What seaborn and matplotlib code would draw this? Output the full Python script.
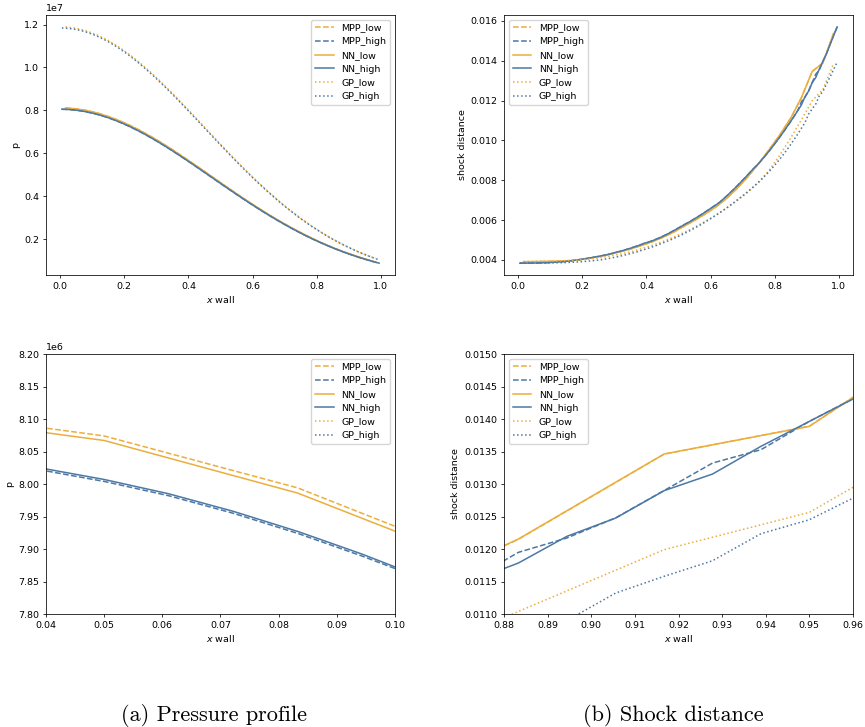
import pandas as pd
import matplotlib
matplotlib.use("Agg")
import matplotlib.pyplot as plt
import seaborn as sns

# --- DATA ---
# wall coordinate of the fine (high) and coarse (low) mesh
X_HIGH = [0.0056, 0.0167, 0.0278, 0.0389, 0.0500, 0.0611, 0.0722, 0.0833, 0.0944, 0.1056,
          0.1167, 0.1278, 0.1389, 0.1500, 0.1611, 0.1722, 0.1833, 0.1944, 0.2056, 0.2167,
          0.2278, 0.2389, 0.2500, 0.2611, 0.2722, 0.2833, 0.2944, 0.3056, 0.3167, 0.3278,
          0.3389, 0.3500, 0.3611, 0.3722, 0.3833, 0.3944, 0.4056, 0.4167, 0.4278, 0.4389,
          0.4500, 0.4611, 0.4722, 0.4833, 0.4944, 0.5056, 0.5167, 0.5278, 0.5389, 0.5500,
          0.5611, 0.5722, 0.5833, 0.5944, 0.6056, 0.6167, 0.6278, 0.6389, 0.6500, 0.6611,
          0.6722, 0.6833, 0.6944, 0.7056, 0.7167, 0.7278, 0.7389, 0.7500, 0.7611, 0.7722,
          0.7833, 0.7944, 0.8056, 0.8167, 0.8278, 0.8389, 0.8500, 0.8611, 0.8722, 0.8833,
          0.8944, 0.9056, 0.9167, 0.9278, 0.9389, 0.9500, 0.9611, 0.9722, 0.9833, 0.9944]
X_LOW = [0.0167, 0.0500, 0.0833, 0.1167, 0.1500, 0.1833, 0.2167, 0.2500, 0.2833, 0.3167,
         0.3500, 0.3833, 0.4167, 0.4500, 0.4833, 0.5167, 0.5500, 0.5833, 0.6167, 0.6500,
         0.6833, 0.7167, 0.7500, 0.7833, 0.8167, 0.8500, 0.8833, 0.9167, 0.9500, 0.9833]

# pressure, in units of 1e6
P_MPP_LOW = [8.114, 8.074, 7.994, 7.876, 7.719, 7.530, 7.308, 7.057, 6.780, 6.483,
             6.167, 5.837, 5.498, 5.153, 4.806, 4.458, 4.117, 3.782, 3.457, 3.144,
             2.846, 2.563, 2.297, 2.048, 1.816, 1.603, 1.408, 1.231, 1.071, 0.927]
P_NN_LOW = [8.107, 8.067, 7.986, 7.869, 7.712, 7.523, 7.301, 7.050, 6.774, 6.477,
            6.162, 5.832, 5.494, 5.149, 4.802, 4.455, 4.114, 3.779, 3.455, 3.142,
            2.844, 2.561, 2.295, 2.046, 1.815, 1.602, 1.407, 1.230, 1.070, 0.926]
P_GP_LOW = [11.891, 11.826, 11.697, 11.506, 11.256, 10.951, 10.597, 10.198, 9.760, 9.289,
            8.793, 8.278, 7.750, 7.216, 6.682, 6.155, 5.637, 5.135, 4.652, 4.192,
            3.756, 3.347, 2.966, 2.614, 2.291, 1.998, 1.733, 1.494, 1.281, 1.093]
P_MPP_HIGH = [8.048, 8.044, 8.035, 8.022, 8.004, 7.982, 7.955, 7.924, 7.889, 7.851,
              7.808, 7.760, 7.709, 7.653, 7.594, 7.531, 7.465, 7.395, 7.321, 7.245,
              7.165, 7.082, 6.996, 6.907, 6.816, 6.722, 6.626, 6.527, 6.427, 6.324,
              6.220, 6.114, 6.006, 5.898, 5.787, 5.676, 5.564, 5.451, 5.337, 5.223,
              5.109, 4.994, 4.879, 4.764, 4.649, 4.534, 4.420, 4.307, 4.193, 4.081,
              3.969, 3.859, 3.749, 3.640, 3.533, 3.427, 3.322, 3.219, 3.117, 3.016,
              2.918, 2.821, 2.725, 2.632, 2.540, 2.450, 2.362, 2.276, 2.191, 2.109,
              2.029, 1.950, 1.874, 1.799, 1.727, 1.657, 1.588, 1.522, 1.457, 1.395,
              1.334, 1.276, 1.219, 1.164, 1.111, 1.060, 1.010, 0.962, 0.917, 0.872]
P_NN_HIGH = [8.051, 8.047, 8.038, 8.025, 8.007, 7.985, 7.958, 7.927, 7.892, 7.853,
             7.810, 7.762, 7.711, 7.655, 7.596, 7.533, 7.467, 7.397, 7.323, 7.247,
             7.167, 7.084, 6.998, 6.909, 6.818, 6.724, 6.628, 6.529, 6.429, 6.326,
             6.222, 6.116, 6.008, 5.900, 5.789, 5.678, 5.566, 5.453, 5.339, 5.225,
             5.111, 4.996, 4.881, 4.766, 4.651, 4.536, 4.422, 4.309, 4.195, 4.083,
             3.971, 3.861, 3.751, 3.642, 3.535, 3.429, 3.324, 3.221, 3.119, 3.018,
             2.920, 2.823, 2.727, 2.634, 2.542, 2.452, 2.364, 2.278, 2.193, 2.111,
             2.031, 1.952, 1.876, 1.801, 1.729, 1.659, 1.590, 1.524, 1.459, 1.397,
             1.336, 1.278, 1.221, 1.166, 1.113, 1.062, 1.012, 0.964, 0.919, 0.874]
P_GP_HIGH = [11.839, 11.832, 11.817, 11.796, 11.767, 11.731, 11.688, 11.639, 11.582, 11.519,
             11.449, 11.372, 11.289, 11.200, 11.105, 11.004, 10.897, 10.785, 10.667, 10.544,
             10.416, 10.284, 10.147, 10.006, 9.860, 9.711, 9.558, 9.402, 9.243, 9.081,
             8.916, 8.749, 8.580, 8.409, 8.237, 8.063, 7.887, 7.711, 7.535, 7.357,
             7.180, 7.003, 6.826, 6.649, 6.473, 6.298, 6.124, 5.951, 5.779, 5.609,
             5.441, 5.274, 5.109, 4.947, 4.787, 4.629, 4.474, 4.321, 4.171, 4.024,
             3.879, 3.737, 3.598, 3.463, 3.330, 3.201, 3.074, 2.951, 2.831, 2.715,
             2.601, 2.491, 2.384, 2.280, 2.179, 2.082, 1.988, 1.897, 1.809, 1.724,
             1.642, 1.563, 1.487, 1.413, 1.343, 1.275, 1.210, 1.148, 1.088, 1.030]

# shock distance, in units of 1e-3
S_MPP_LOW = [3.900, 3.908, 3.920, 3.932, 3.948, 3.990, 4.065, 4.155, 4.275, 4.405,
             4.540, 4.715, 4.895, 5.125, 5.375, 5.685, 5.975, 6.305, 6.655, 7.085,
             7.595, 8.185, 8.835, 9.555, 10.295, 11.125, 12.150, 13.460, 13.890, 15.370]
S_NN_LOW = [3.905, 3.910, 3.918, 3.930, 3.950, 3.985, 4.060, 4.160, 4.270, 4.400,
            4.545, 4.710, 4.900, 5.120, 5.380, 5.680, 5.980, 6.300, 6.660, 7.080,
            7.600, 8.180, 8.840, 9.550, 10.300, 11.120, 12.154, 13.462, 13.887, 15.374]
S_GP_LOW = [3.920, 3.922, 3.926, 3.935, 3.955, 3.985, 4.030, 4.095, 4.180, 4.280,
            4.400, 4.550, 4.720, 4.910, 5.130, 5.370, 5.640, 5.930, 6.250, 6.600,
            6.980, 7.400, 7.880, 8.520, 9.280, 10.120, 11.040, 11.990, 12.564, 13.847]
S_MPP_HIGH = [3.832, 3.832, 3.834, 3.836, 3.839, 3.843, 3.848, 3.855, 3.862, 3.872,
              3.882, 3.896, 3.910, 3.927, 3.946, 3.968, 3.992, 4.018, 4.046, 4.076,
              4.108, 4.140, 4.172, 4.206, 4.244, 4.284, 4.327, 4.372, 4.422, 4.472,
              4.527, 4.582, 4.642, 4.702, 4.765, 4.825, 4.885, 4.950, 5.020, 5.095,
              5.175, 5.260, 5.352, 5.450, 5.552, 5.652, 5.757, 5.852, 5.952, 6.062,
              6.172, 6.282, 6.402, 6.522, 6.642, 6.762, 6.882, 7.042, 7.202, 7.372,
              7.542, 7.722, 7.902, 8.092, 8.282, 8.482, 8.662, 8.842, 9.052, 9.262,
              9.482, 9.712, 9.952, 10.192, 10.442, 10.702, 10.962, 11.232, 11.520, 11.949,
              12.170, 12.480, 12.900, 13.323, 13.528, 13.964, 14.350, 14.820, 15.270, 15.680]
S_NN_HIGH = [3.830, 3.831, 3.833, 3.835, 3.838, 3.842, 3.847, 3.853, 3.861, 3.870,
             3.881, 3.894, 3.909, 3.925, 3.945, 3.967, 3.991, 4.017, 4.045, 4.075,
             4.107, 4.139, 4.170, 4.205, 4.242, 4.282, 4.325, 4.385, 4.420, 4.470,
             4.525, 4.580, 4.640, 4.700, 4.760, 4.840, 4.880, 4.945, 5.015, 5.090,
             5.170, 5.258, 5.350, 5.448, 5.550, 5.650, 5.755, 5.850, 5.950, 6.060,
             6.170, 6.280, 6.400, 6.520, 6.640, 6.760, 6.880, 7.040, 7.200, 7.370,
             7.540, 7.720, 7.900, 8.090, 8.280, 8.480, 8.660, 8.840, 9.050, 9.260,
             9.480, 9.710, 9.950, 10.190, 10.440, 10.700, 10.960, 11.230, 11.500, 11.785,
             12.195, 12.477, 12.898, 13.154, 13.580, 13.964, 14.346, 14.800, 15.250, 15.700]
S_GP_HIGH = [3.840, 3.840, 3.841, 3.842, 3.843, 3.844, 3.845, 3.846, 3.848, 3.850,
             3.853, 3.856, 3.860, 3.865, 3.872, 3.880, 3.890, 3.900, 3.915, 3.930,
             3.945, 3.965, 3.985, 4.010, 4.040, 4.070, 4.105, 4.140, 4.180, 4.220,
             4.265, 4.310, 4.360, 4.410, 4.465, 4.520, 4.580, 4.640, 4.700, 4.770,
             4.840, 4.910, 4.980, 5.060, 5.140, 5.220, 5.310, 5.400, 5.490, 5.590,
             5.690, 5.790, 5.900, 6.010, 6.120, 6.240, 6.360, 6.480, 6.610, 6.740,
             6.870, 7.010, 7.150, 7.290, 7.440, 7.590, 7.750, 7.910, 8.080, 8.260,
             8.450, 8.650, 8.860, 9.080, 9.310, 9.550, 9.800, 10.060, 10.330, 10.610,
             10.900, 11.323, 11.580, 11.820, 12.236, 12.451, 12.820, 13.180, 13.550, 13.930]

P_SCALE = 1e6
S_SCALE = 1e-3

ORDER = ["MPP_low", "MPP_high", "NN_low", "NN_high", "GP_low", "GP_high"]
ORANGE = "#ebae3e"
BLUE = "#4b78a5"
PALETTE = {"MPP_low": ORANGE, "MPP_high": BLUE, "NN_low": ORANGE,
           "NN_high": BLUE, "GP_low": ORANGE, "GP_high": BLUE}
DASHES = {"MPP_low": (3.7, 1.6), "MPP_high": (3.7, 1.6), "NN_low": "",
          "NN_high": "", "GP_low": (1, 1.65), "GP_high": (1, 1.65)}

# --- build long tables ---
series = {
    "MPP_low": (X_LOW, P_MPP_LOW, S_MPP_LOW),
    "MPP_high": (X_HIGH, P_MPP_HIGH, S_MPP_HIGH),
    "NN_low": (X_LOW, P_NN_LOW, S_NN_LOW),
    "NN_high": (X_HIGH, P_NN_HIGH, S_NN_HIGH),
    "GP_low": (X_LOW, P_GP_LOW, S_GP_LOW),
    "GP_high": (X_HIGH, P_GP_HIGH, S_GP_HIGH),
}
frames = []
for name in ORDER:
    xs, ps, ss = series[name]
    frames.append(pd.DataFrame({
        "x": xs,
        "p": [v * P_SCALE for v in ps],
        "s": [v * S_SCALE for v in ss],
        "series": name,
    }))
df = pd.concat(frames, ignore_index=True)

# --- STYLE ---
plt.rcParams.update({
    "font.size": 6.8,
    "axes.linewidth": 0.55,
    "xtick.major.size": 2.4,
    "ytick.major.size": 2.4,
    "xtick.major.width": 0.55,
    "ytick.major.width": 0.55,
    "xtick.major.pad": 2.4,
    "ytick.major.pad": 2.4,
    "axes.labelpad": 2.7,
    "legend.fontsize": 6.8,
})

fig = plt.figure(figsize=(8.65, 7.27), dpi=100)
W, H = 0.4034, 0.3576
ax_tl = fig.add_axes([0.0532, 0.6217, W, H])
ax_tr = fig.add_axes([0.5827, 0.6217, W, H])
ax_bl = fig.add_axes([0.0532, 0.1554, W, H])
ax_br = fig.add_axes([0.5827, 0.1554, W, H])


def draw(ax, col, ylabel, loc):
    sns.lineplot(data=df, x="x", y=col, hue="series", style="series",
                 hue_order=ORDER, style_order=ORDER, palette=PALETTE,
                 dashes=DASHES, errorbar=None, linewidth=1.1, ax=ax)
    leg = ax.get_legend()
    handles = leg.legend_handles
    labels = [t.get_text() for t in leg.texts]
    ax.legend(handles, labels, loc=loc)
    ax.set_xlabel("$x$ wall")
    ax.set_ylabel(ylabel)


draw(ax_tl, "p", "p", "upper right")
draw(ax_tr, "s", "shock distance", "upper left")
draw(ax_bl, "p", "p", "upper right")
draw(ax_br, "s", "shock distance", "upper left")

ax_bl.set_xlim(0.04, 0.10)
ax_bl.set_ylim(7.8e6, 8.2e6)
ax_br.set_xlim(0.88, 0.96)
ax_br.set_ylim(0.011, 0.015)

fig.text(0.2474, 0.0165, "(a) Pressure profile", ha="center", va="center",
         fontsize=16, family="cmr10")
fig.text(0.7780, 0.0165, "(b) Shock distance", ha="center", va="center",
         fontsize=16, family="cmr10")

plt.savefig("out.png", dpi=100)
